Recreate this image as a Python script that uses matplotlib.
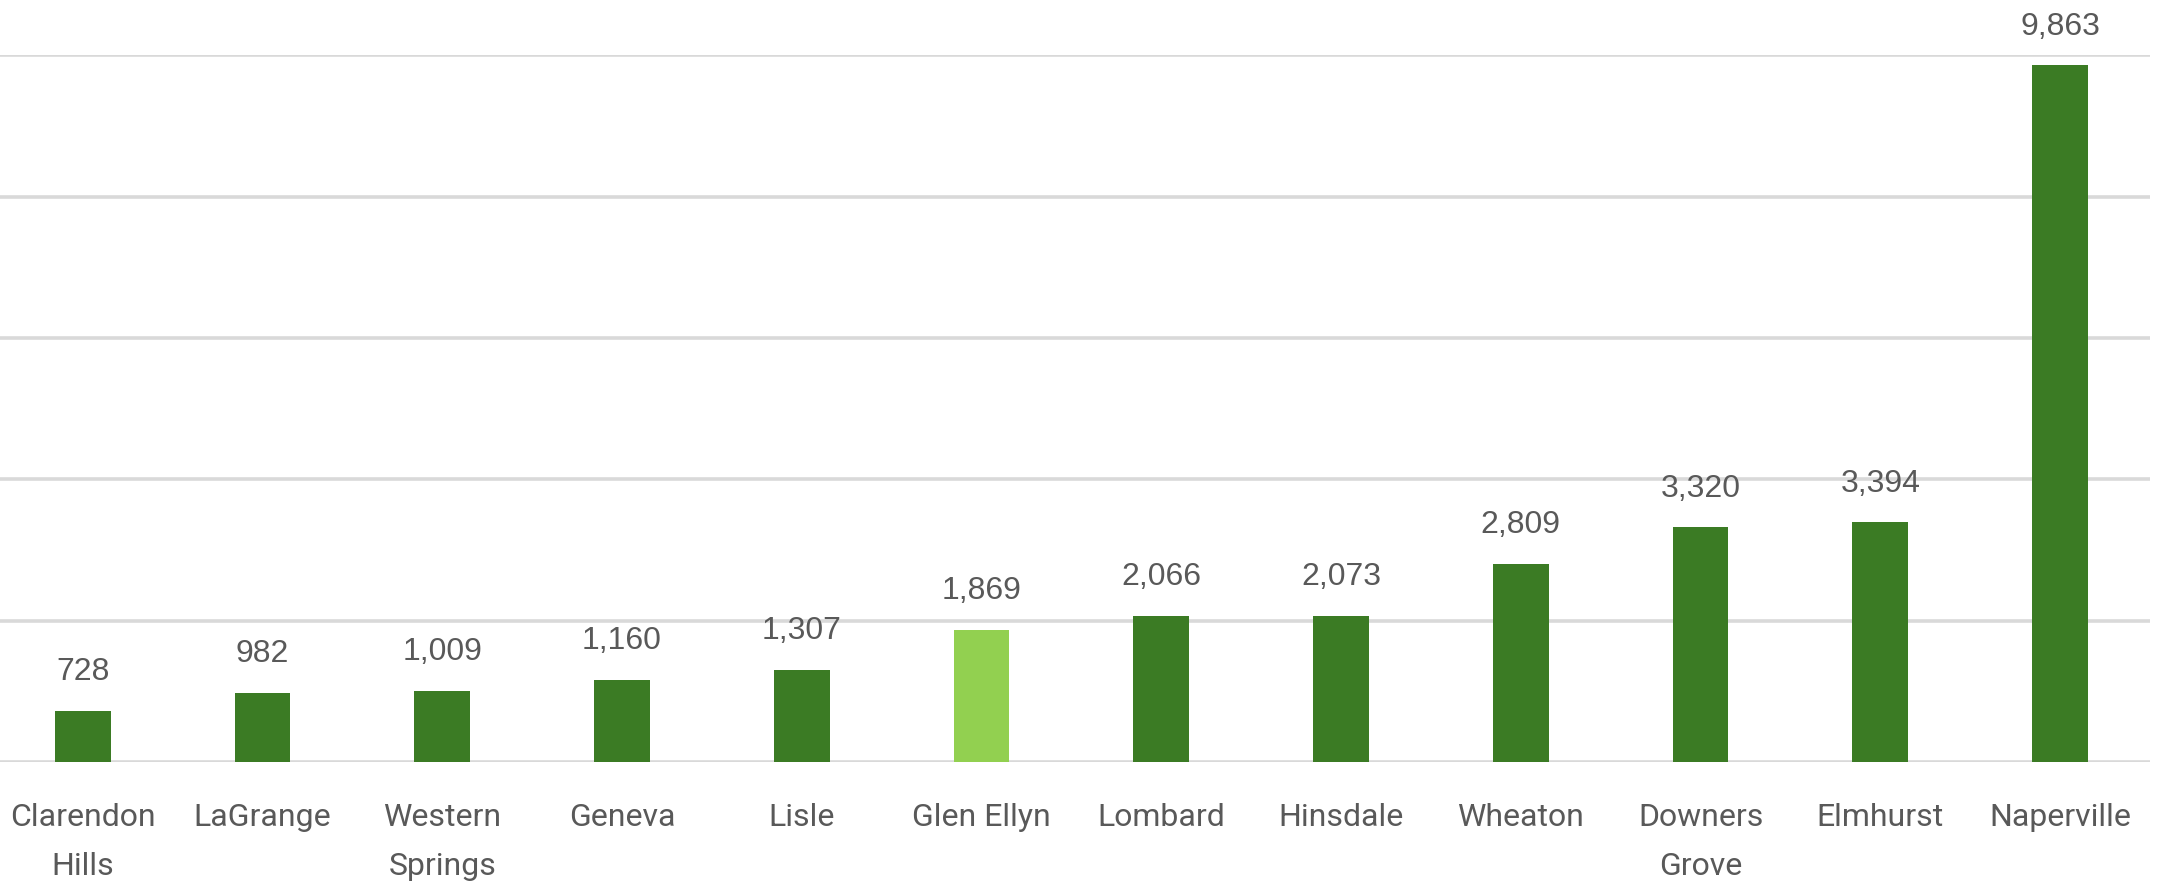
import matplotlib.pyplot as plt
from matplotlib import font_manager

towns = ["Clarendon\nHills", "LaGrange", "Western\nSprings", "Geneva", "Lisle", "Glen Ellyn",
         "Lombard", "Hinsdale", "Wheaton", "Downers\nGrove", "Elmhurst", "Naperville"]
values = [728, 982, 1009, 1160, 1307, 1869, 2066, 2073, 2809, 3320, 3394, 9863]
highlight = "Glen Ellyn"

DARK = "#3B7B24"
LIGHT = "#92D050"
GRID = "#D9D9D9"
TEXT = "#595959"

names = {f.name for f in font_manager.fontManager.ttflist}
narrow = "Liberation Sans Narrow" if "Liberation Sans Narrow" in names else "Roboto"

fig = plt.figure(figsize=(21.77, 8.89), dpi=100)
ax = fig.add_axes([0.0, 1 - 762 / 889, 2150 / 2177, (762 - 55.5) / 889])

colors = [LIGHT if t.replace("\n", " ") == highlight else DARK for t in towns]
x = list(range(len(towns)))
ax.bar(x, values, width=0.31, color=colors, zorder=3)

for xi, v in zip(x, values):
    ax.annotate(f"{v:,}", (xi, v), xytext=(0, 17), textcoords="offset points",
                ha="center", va="bottom", fontsize=23, color=TEXT,
                family="Liberation Sans", annotation_clip=False)

ax.set_xlim(-0.46, 11.5)
ax.set_ylim(0, 10000)
ax.set_yticks(range(0, 10001, 2000))
ax.yaxis.grid(True, color=GRID, linewidth=2.6, zorder=0)
ax.set_yticklabels([])
ax.tick_params(axis="y", length=0)
ax.set_xticks(x)
ax.set_xticklabels(towns, fontsize=23, color=TEXT, family=narrow, linespacing=1.85)
ax.tick_params(axis="x", length=0, pad=29.5)
for side in ["top", "right", "left", "bottom"]:
    ax.spines[side].set_visible(False)

fig.savefig("out.png", dpi=100)
